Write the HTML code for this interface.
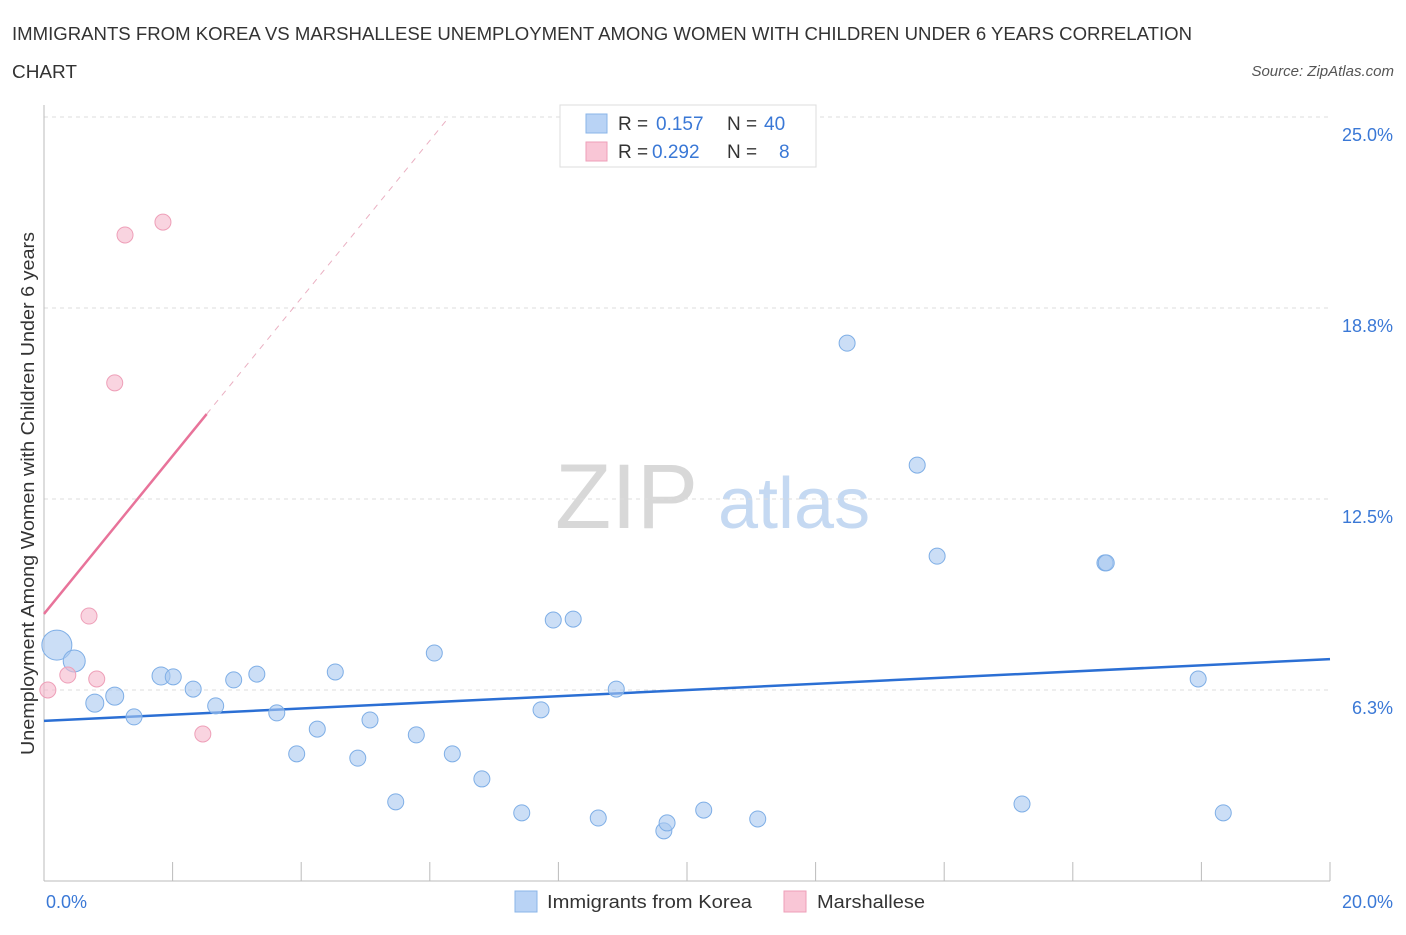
<!DOCTYPE html>
<html><head><meta charset="utf-8"><style>
body{margin:0;background:#fff;font-family:"Liberation Sans",sans-serif;}
svg text{font-family:"Liberation Sans",sans-serif;}
</style></head><body>
<svg id="chart" width="1406" height="930" xmlns="http://www.w3.org/2000/svg">
<text x="12" y="40" font-size="18" fill="#333" textLength="1180" lengthAdjust="spacingAndGlyphs">IMMIGRANTS FROM KOREA VS MARSHALLESE UNEMPLOYMENT AMONG WOMEN WITH CHILDREN UNDER 6 YEARS CORRELATION</text>
<text x="12" y="78" font-size="18" fill="#333" textLength="65" lengthAdjust="spacingAndGlyphs">CHART</text>
<text x="1394" y="76" font-size="15" fill="#555" font-style="italic" text-anchor="end">Source: ZipAtlas.com</text>
<g>
<text x="555" y="528" font-size="92" font-family="Liberation Serif" fill="#d8d8d8">ZIP</text>
<text x="718" y="528" font-size="72" fill="#c5d9f2">atlas</text>
</g>
<g id="grid"></g><g id="axes"></g><g id="trends"></g><g id="points"></g>
<text transform="translate(34,755) rotate(-90)" font-size="18" fill="#333" textLength="523" lengthAdjust="spacingAndGlyphs">Unemployment Among Women with Children Under 6 years</text>
<g>
<rect x="560" y="105" width="256" height="62" fill="#fff" stroke="#ddd"/>
<rect x="586" y="114" width="21" height="19" fill="#b9d3f5" stroke="#8ab4e8"/>
<text x="618" y="130" font-size="19" fill="#333">R = </text><text x="656" y="130" font-size="19" fill="#3a78d6">0.157</text>
<text x="727" y="130" font-size="19" fill="#333">N = </text><text x="764" y="130" font-size="19" fill="#3a78d6">40</text>
<rect x="586" y="142" width="21" height="19" fill="#f9c6d6" stroke="#ee9fb8"/>
<text x="618" y="158" font-size="19" fill="#333">R = </text><text x="652" y="158" font-size="19" fill="#3a78d6">0.292</text>
<text x="727" y="158" font-size="19" fill="#333">N = </text><text x="779" y="158" font-size="19" fill="#3a78d6">8</text>
</g>
<g>
<rect x="515" y="891" width="22" height="21" fill="#b9d3f5" stroke="#8ab4e8"/>
<text x="547" y="908" font-size="18" fill="#333" textLength="205" lengthAdjust="spacingAndGlyphs">Immigrants from Korea</text>
<rect x="784" y="891" width="22" height="21" fill="#f9c6d6" stroke="#ee9fb8"/>
<text x="817" y="908" font-size="18" fill="#333" textLength="108" lengthAdjust="spacingAndGlyphs">Marshallese</text>
</g>
</svg>
<script>
const koreaX=[0.20,0.47,0.79,1.10,1.40,1.82,2.01,2.32,2.67,2.95,3.31,3.62,3.93,4.25,4.53,5.07,4.88,5.47,5.79,6.07,6.35,6.81,7.43,7.73,7.92,8.23,8.62,8.90,9.64,9.69,10.26,11.10,12.49,13.58,13.89,15.21,16.50,16.52,17.95,18.34];
const koreaY=[7.72,7.20,5.82,6.05,5.37,6.71,6.68,6.28,5.73,6.58,6.77,5.50,4.16,4.97,6.84,5.27,4.02,2.59,4.78,7.46,4.16,3.34,2.23,5.60,8.54,8.57,2.06,6.28,1.64,1.90,2.32,2.03,17.60,13.61,10.63,2.52,10.41,10.41,6.61,2.23];
const koreaR=[15,11,9,9,8,9,8,8,8,8,8,8,8,8,8,8,8,8,8,8,8,8,8,8,8,8,8,8,8,8,8,8,8,8,8,8,8,8,8,8];
const marshX=[0.06,0.37,0.70,0.82,1.10,1.26,1.85,2.47];
const marshY=[6.25,6.74,8.67,6.61,16.30,21.14,21.56,4.81];
const yTicks=[6.25,12.5,18.75,25];
const yTickLabels=["6.3%","12.5%","18.8%","25.0%"];
const xTicks=[0,2,4,6,8,10,12,14,16,18,20];
const koreaTrend=[[0,5.24],[20,7.26]];
const marshTrendSolid=[[0,8.74],[2.53,15.28]];
const marshTrendDash=[[2.53,15.28],[6.3,25]];
const sx=v=>44+v*64.3, sy=v=>881-v*30.56;
const NS="http://www.w3.org/2000/svg";
function mk(p,t,a){const e=document.createElementNS(NS,t);for(const k in a)e.setAttribute(k,a[k]);p.appendChild(e);return e;}
const grid=document.getElementById('grid'),axes=document.getElementById('axes'),tr=document.getElementById('trends'),pts=document.getElementById('points');
yTicks.forEach((t,i)=>{
 const l=mk(grid,'line',{x1:44,x2:1330,y1:sy(t),y2:sy(t),stroke:'#ddd','stroke-dasharray':'4,4'});
 
 
 const tx=mk(grid,'text',{x:1393,y:sy(t)+24,'font-size':18,fill:'#3a78d6','text-anchor':'end'});tx.textContent=yTickLabels[i];
 
 
});
const ax=mk(axes,'line',{x1:44,x2:1330,y1:881,y2:881,stroke:'#bbb'});


const ay=mk(axes,'line',{x1:44,x2:44,y1:105,y2:881,stroke:'#bbb'});


xTicks.forEach(t=>{const l=mk(axes,'line',{x1:sx(t),x2:sx(t),y1:862,y2:881,stroke:'#bbb'});
 
 });
[["0.0%",44,'start'],["20.0%",1393,'end']].forEach(d=>{const t=mk(axes,'text',{x:d[1]+(d[2]=='start'?2:0),y:908,'font-size':18,fill:'#3a78d6','text-anchor':d[2]});t.textContent=d[0];
 
 });
function line(d,c,w,dash,name){const l=mk(tr,'line',{x1:sx(d[0][0]),y1:sy(d[0][1]),x2:sx(d[1][0]),y2:sy(d[1][1]),stroke:c,'stroke-width':w});if(dash)l.setAttribute('stroke-dasharray',dash);
 
 }
line(koreaTrend,'#2b6fd4',2.5,null,'korea-trend-line');
line(marshTrendSolid,'#e8739a',2.5,null,'marshallese-trend-line');
line(marshTrendDash,'#eab0c2',1,'6,6','marshallese-trend-extension');
koreaX.forEach((x,i)=>{const c=mk(pts,'circle',{cx:sx(x),cy:sy(koreaY[i]),r:koreaR[i],fill:'rgba(169,200,240,0.6)',stroke:'#7eaee6','stroke-width':1});
 
 });
marshX.forEach((x,i)=>{const c=mk(pts,'circle',{cx:sx(x),cy:sy(marshY[i]),r:8,fill:'rgba(245,184,203,0.6)',stroke:'#ee9fb8','stroke-width':1});
 
 });
</script>
</body></html>
